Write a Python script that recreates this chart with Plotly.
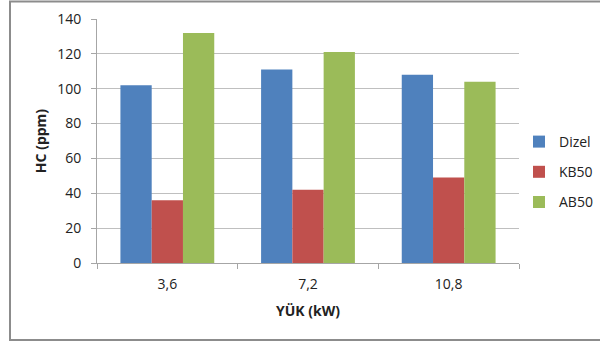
import plotly.graph_objects as go

# Engine load categories and HC emissions (ppm) per fuel
loads = ["3,6", "7,2", "10,8"]
dizel = [102, 111, 108]
kb50 = [36, 42, 49]
ab50 = [132, 121, 104]

series = [
    ("Dizel", dizel, "#4F81BD"),
    ("KB50", kb50, "#C0504D"),
    ("AB50", ab50, "#9BBB59"),
]

FONT = "Open Sans"
GRID = "#BFBFBF"
TXT = "#222222"

fig = go.Figure()
for name, vals, color in series:
    fig.add_trace(go.Bar(
        x=loads, y=vals, name=name, legendgroup=name,
        marker=dict(color=color, line=dict(width=0)),
    ))

W, H = 600, 342
L, R, T, B = 97, 81, 19, 79
pw, ph = W - L - R, H - T - B


def px_x(p):
    return (p - L) / pw


def px_y(p):
    return (H - B - p) / ph


fig.update_layout(
    width=W, height=H,
    margin=dict(l=L, r=R, t=T, b=B, autoexpand=False),
    paper_bgcolor="white", plot_bgcolor="white",
    barmode="group", bargap=0.333, bargroupgap=0,
    font=dict(family=FONT, size=14, color=TXT),
    showlegend=True,
    legend=dict(
        x=px_x(519), y=px_y(126), xanchor="left", yanchor="top",
        font=dict(family=FONT, size=14, color=TXT),
        tracegroupgap=9, itemwidth=30,
        bgcolor="rgba(0,0,0,0)",
    ),
    xaxis=dict(
        type="category",
        showline=True, linecolor="#A6A6A6", linewidth=1,
        ticks="outside", tickson="boundaries", ticklen=5,
        tickcolor="#A6A6A6", ticklabelstandoff=8,
        tickfont=dict(family=FONT, size=14, color=TXT),
        title=dict(text="<b>YÜK (kW)</b>", standoff=14,
                   font=dict(family=FONT, size=14, color=TXT)),
        showgrid=False,
    ),
    yaxis=dict(
        range=[0, 140], dtick=20, tick0=0,
        showline=True, linecolor="#A6A6A6", linewidth=1,
        ticks="outside", ticklen=5, tickcolor="#A6A6A6",
        ticklabelstandoff=7,
        showgrid=True, gridcolor=GRID, gridwidth=1,
        zeroline=False,
        tickfont=dict(family=FONT, size=14, color=TXT),
        title=dict(text="<b>HC (ppm)</b>", standoff=7,
                   font=dict(family=FONT, size=14, color=TXT)),
    ),
    shapes=[dict(
        type="rect", xref="paper", yref="paper",
        x0=px_x(10), x1=px_x(603), y0=px_y(340), y1=px_y(1.5),
        line=dict(color="#8C8C8C", width=2), fillcolor="rgba(0,0,0,0)",
        layer="below",
    )],
)

fig.write_html("out.html")
